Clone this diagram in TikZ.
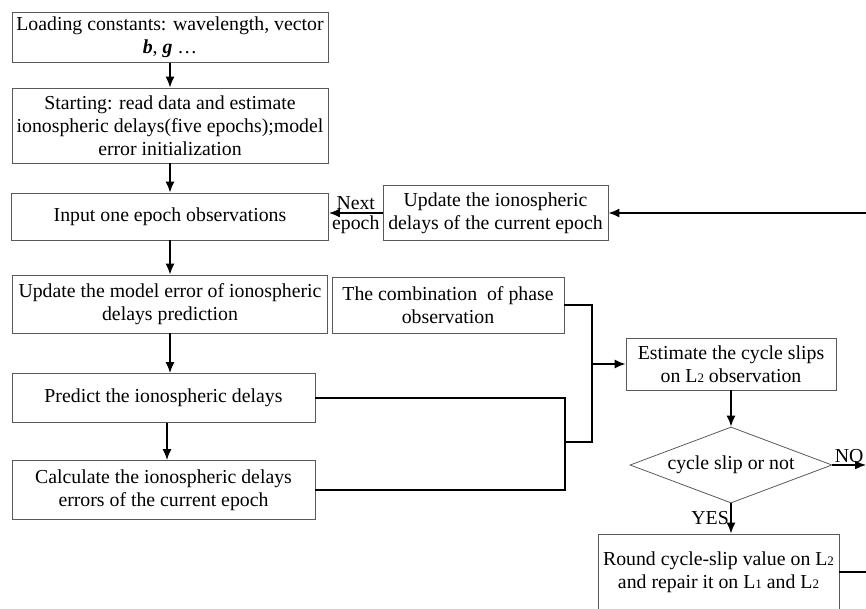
\documentclass[tikz,border=0pt]{standalone}
\usepackage{fontspec}
\setmainfont{Liberation Serif}
\usetikzlibrary{arrows.meta, positioning, shapes.geometric}

\tikzset{
  box/.style={draw=black!65, line width=0.8pt, align=center, inner sep=0pt,
    font=\fontsize{19.8}{23}\selectfont},
  flow/.style={-{Latex[length=11pt,width=9pt]}, line width=1.5pt},
  wire/.style={line width=1.5pt},
  tag/.style={inner sep=1.5pt, font=\fontsize{19.8}{21}\selectfont},
}
\newcommand{\Lsub}[1]{L{\fontsize{13}{13}\selectfont #1}}

\begin{document}
\begin{tikzpicture}[x=1pt, y=-1pt]
  \useasboundingbox (0,0) rectangle (866,609);

  % Left column
  \node[box, minimum width=316pt, minimum height=50pt] (load) at (170,37.5)
    {Loading constants: wavelength, vector\\ {\bfseries\itshape b}, {\bfseries\itshape g} \ldots};
  \node[box, minimum width=316pt, minimum height=75pt] (start) at (170,125.5)
    {Starting: read data and estimate\\ ionospheric delays(five epochs);model\\ error initialization};
  \node[box, minimum width=317pt, minimum height=47pt] (input) at (170,216.5)
    {Input one epoch observations};
  \node[box, minimum width=315pt, minimum height=58pt] (model) at (170,304)
    {Update the model error of ionospheric\\ delays prediction};
  \node[box, minimum width=303pt, minimum height=49pt] (predict) at (163.5,398)
    {Predict the ionospheric delays};
  \node[box, minimum width=303pt, minimum height=59pt] (calc) at (163.5,490)
    {Calculate the ionospheric delays\\ errors of the current epoch};

  % Middle and right
  \node[box, minimum width=225pt, minimum height=55pt] (update) at (495.5,213)
    {Update the ionospheric\\ delays of the current epoch};
  \node[box, minimum width=232pt, minimum height=56pt] (combo) at (448,305)
    {The combination~ of phase\\ observation};
  \node[box, minimum width=210pt, minimum height=52pt] (estimate) at (731,364)
    {Estimate the cycle slips\\ on \Lsub{2} observation};
  \node[box, diamond, aspect=2.66, minimum width=202pt, minimum height=76pt] (slip) at (731,465)
    {cycle slip or not};
  \node[box, minimum width=241pt, minimum height=76pt] (round) at (718.5,572)
    {Round cycle-slip value on \Lsub{2}\\ and repair it on \Lsub{1} and \Lsub{2}};

  % Free ends and joints
  \coordinate (back) at (866,213);
  \coordinate (noend) at (866,465);
  \coordinate (roundout) at (866,572);
  \coordinate (pc) at (565,442);
  \coordinate (busb) at (592,442);
  \coordinate (bus) at (592,364);

  % Connectors
  \draw[flow] (load) -- (start);
  \draw[flow] (start) -- (input);
  \draw[flow] (input.south) -- (input.south |- model.north);
  \draw[flow] (model.south) -- (model.south |- predict.north);
  \draw[flow] ([xshift=3.5pt]predict.south) -- ([xshift=3.5pt]calc.north);
  \draw[flow] (back) -- (update.east);
  \draw[flow] (update.west) -- (update.west -| input.east)
    node[tag, midway, above=1pt] (nextlbl) {Next}
    node[tag, midway, below=1pt] (epochlbl) {epoch};
  \draw[wire] (predict.east) -| (pc) |- (calc.east);
  \draw[wire] (combo.east) -| (busb) -- (pc);
  \draw[flow] (bus) -- (estimate.west);
  \draw[flow] (estimate) -- (slip);
  \draw[flow] (slip.south) -- (slip.south |- round.north)
    node[tag, midway, left] (yeslbl) {YES};
  \draw[flow] (slip.east) -- (noend)
    node[tag, midway, above] (nolbl) {NO};
  \draw[wire] (round.east) -- (roundout);
\end{tikzpicture}
\end{document}
